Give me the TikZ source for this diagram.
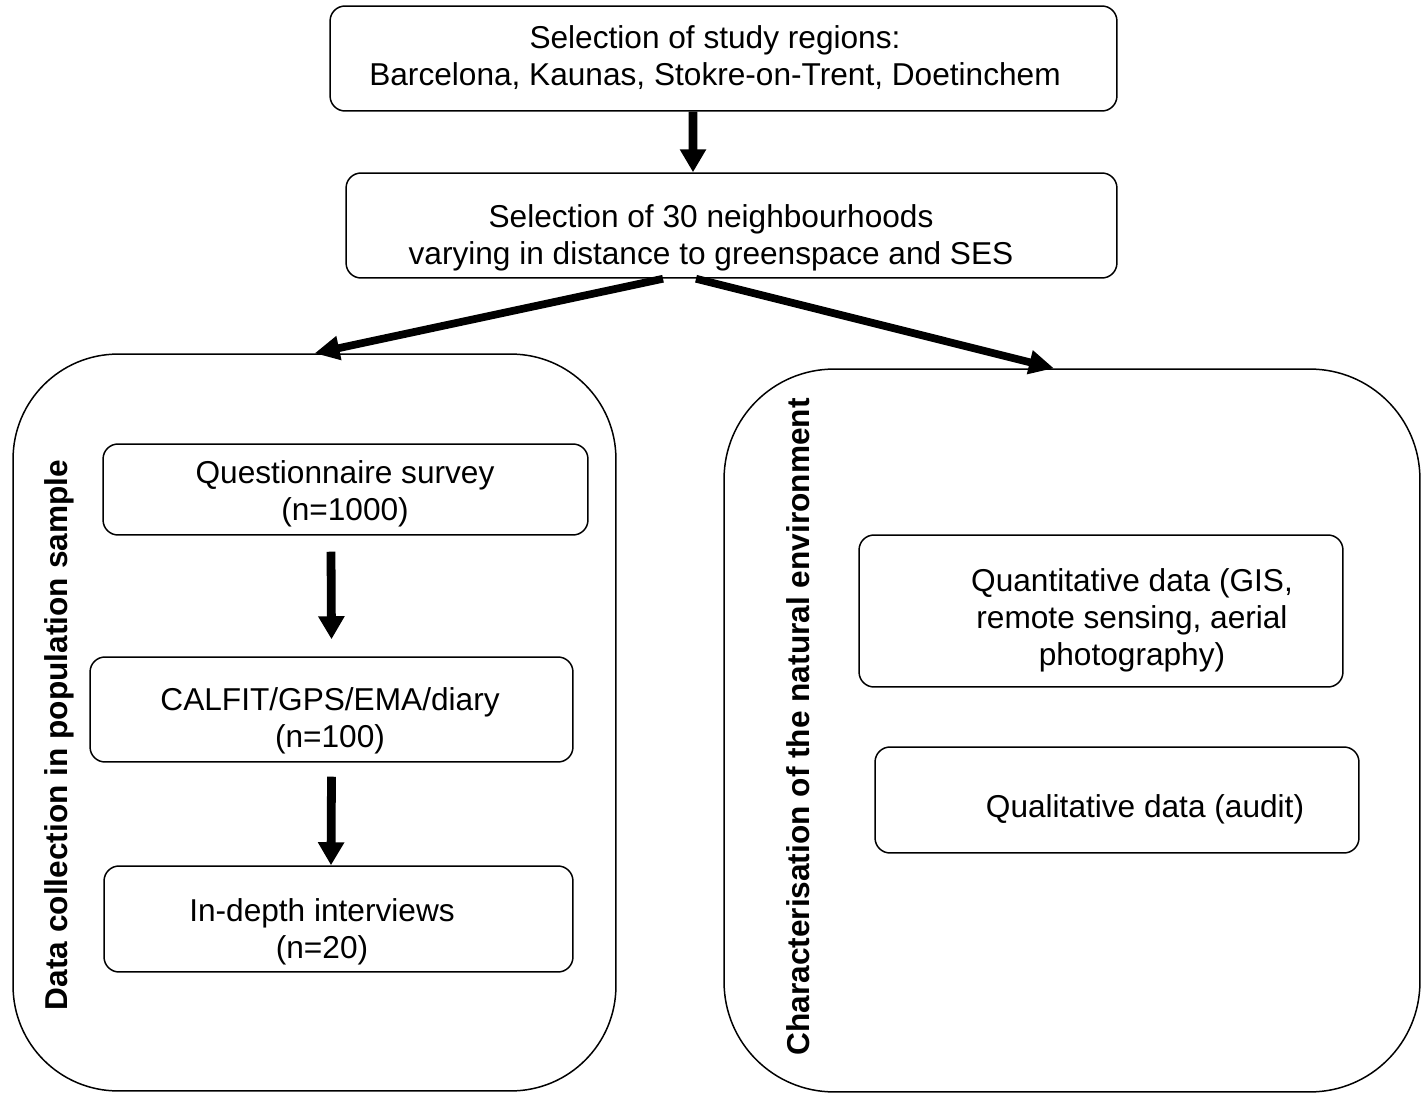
\documentclass[tikz,border=0pt]{standalone}
\usepackage{fontspec}
\setmainfont{Liberation Sans}
\usetikzlibrary{arrows.meta,calc}

\tikzset{
  box/.style={draw, rounded corners=0.3cm, line width=0.85pt, inner sep=0pt},
  panel/.style={draw, line width=0.85pt, inner sep=0pt},
  txt/.style={align=center, inner sep=0pt, font=\fontsize{18}{21}\selectfont},
  side/.style={rotate=90, anchor=base, inner sep=0pt, font=\fontsize{18}{21}\selectfont\bfseries},
  flow/.style={line width=5pt, -{Triangle[length=4.6mm, width=5mm]}},
  split/.style={line width=4.4pt, -{Triangle[length=5mm, width=4.6mm]}}
}

\begin{document}
\begin{tikzpicture}[x=0.02cm, y=-0.02cm]
	\useasboundingbox (0,0) rectangle (1421,1095);
	% selection steps
	\node[box, minimum width=15.74cm, minimum height=2.1cm] (regions) at (723.5,58.5) {};
	\node[txt] (regions-t) at (715,58) {Selection of study regions:\\Barcelona, Kaunas, Stokre-on-Trent, Doetinchem};
	\node[box, minimum width=15.42cm, minimum height=2.1cm] (hoods) at (731.5,225.5) {};
	\node[txt] (hoods-t) at (711,238) {Selection of 30 neighbourhoods\\varying in distance to greenspace and SES};
	%
	\node[panel, rounded corners=2.1cm, minimum width=12.06cm, minimum height=14.74cm] (sample) at (314.5,722.5) {};
	\node[panel, rounded corners=2.2cm, minimum width=13.92cm, minimum height=14.46cm] (nature) at (1072,730.5) {};
	\node[side] (sample-t) at (68,735) {Data collection in population sample};
	\node[side] (nature-t) at (809,727) {Characterisation of the natural environment};
	%
	\node[box, minimum width=9.7cm, minimum height=1.82cm] (quest) at (345.5,489.5) {};
	\node[txt] (quest-t) at (345,494) {Questionnaire survey\\(n=1000)};
	\node[box, minimum width=9.66cm, minimum height=2.1cm] (calfit) at (331.5,709.5) {};
	\node[txt] (calfit-t) at (330,721) {CALFIT/GPS/EMA/diary\\(n=100)};
	\node[box, minimum width=9.38cm, minimum height=2.12cm] (depth) at (338.5,919) {};
	\node[txt] (depth-t) at (322,932) {In-depth interviews\\(n=20)};
	%
	\node[box, minimum width=9.68cm, minimum height=3.04cm] (quant) at (1101,611) {};
	\node[txt] (quant-t) at (1132,620) {Quantitative data (GIS,\\remote sensing, aerial\\photography)};
	\node[box, minimum width=9.68cm, minimum height=2.12cm] (qual) at (1117,800) {};
	\node[txt] (qual-t) at (1145,809) {Qualitative data (audit)};
	% arrows
	\draw[flow] ([xshift=-0.61cm]regions.south) -- ([xshift=-0.77cm]hoods.north);
	\draw[split] ([xshift=-1.37cm]hoods.south) -- (sample.north);
	\draw[split] ([xshift=-0.71cm]hoods.south) -- ([xshift=-0.36cm]nature.north);
	\draw[flow] ([xshift=-0.29cm,yshift=-0.32cm]quest.south) -- ([yshift=0.34cm]calfit.north);
	\draw[flow] ([yshift=-0.28cm]calfit.south) -- ([xshift=-0.15cm]depth.north);
\end{tikzpicture}
\end{document}
